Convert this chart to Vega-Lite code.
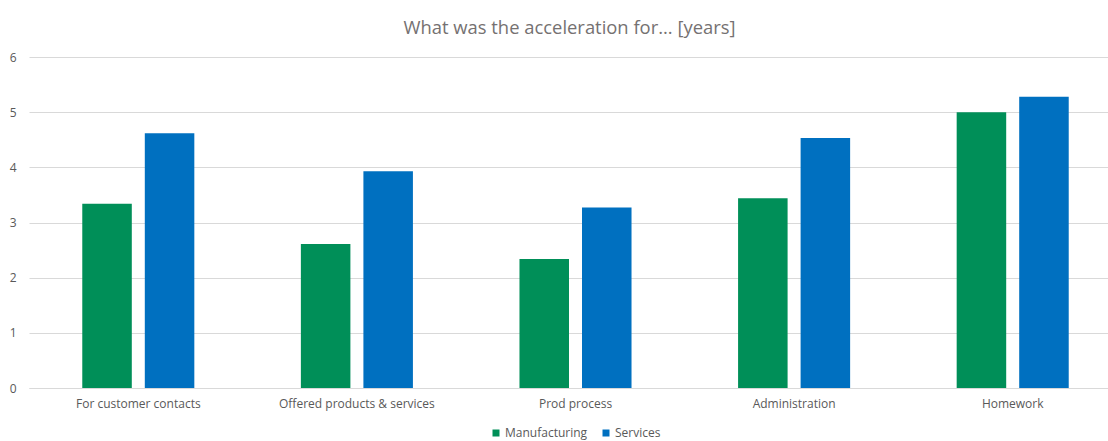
{
  "$schema": "https://vega.github.io/schema/vega-lite/v6.json",
  "width": 1093,
  "height": 331,
  "autosize": {"type": "none"},
  "padding": {"left": 29, "top": 57, "right": 0, "bottom": 53},
  "background": "white",
  "title": {
    "text": "What was the acceleration for... [years]",
    "anchor": "middle",
    "font": "Open Sans",
    "fontSize": 18.4,
    "fontWeight": "normal",
    "color": "#757171",
    "offset": 14,
    "dx": -6
  },
  "data": {
    "values": [
      {"category": "For customer contacts", "sector": "Manufacturing", "years": 3.34},
      {"category": "For customer contacts", "sector": "Services", "years": 4.62},
      {"category": "Offered products & services", "sector": "Manufacturing", "years": 2.61},
      {"category": "Offered products & services", "sector": "Services", "years": 3.93},
      {"category": "Prod process", "sector": "Manufacturing", "years": 2.34},
      {"category": "Prod process", "sector": "Services", "years": 3.27},
      {"category": "Administration", "sector": "Manufacturing", "years": 3.44},
      {"category": "Administration", "sector": "Services", "years": 4.53},
      {"category": "Homework", "sector": "Manufacturing", "years": 5.0},
      {"category": "Homework", "sector": "Services", "years": 5.28}
    ]
  },
  "mark": {"type": "bar"},
  "encoding": {
    "x": {
      "field": "category",
      "type": "nominal",
      "sort": null,
      "scale": {"paddingInner": 0, "paddingOuter": 0},
      "axis": {
        "title": null,
        "labelAngle": 0,
        "labelFont": "Open Sans",
        "labelFontSize": 12,
        "labelColor": "#595959",
        "labelPadding": 10,
        "ticks": false,
        "domainColor": "#d9d9d9",
        "grid": false
      }
    },
    "xOffset": {
      "field": "sector",
      "type": "nominal",
      "scale": {"paddingInner": 0.208, "paddingOuter": 0.852}
    },
    "y": {
      "field": "years",
      "type": "quantitative",
      "scale": {"domain": [0, 6], "nice": false},
      "axis": {
        "title": null,
        "values": [0, 1, 2, 3, 4, 5, 6],
        "labelOverlap": false,
        "labelFont": "Open Sans",
        "labelFontSize": 12,
        "labelColor": "#595959",
        "labelPadding": 13,
        "ticks": false,
        "domain": false,
        "gridColor": "#d9d9d9"
      }
    },
    "color": {
      "field": "sector",
      "type": "nominal",
      "scale": {"domain": ["Manufacturing", "Services"], "range": ["#008F58", "#0070C0"]},
      "legend": {
        "title": null,
        "orient": "bottom",
        "direction": "horizontal",
        "symbolType": "square",
        "symbolSize": 49,
        "symbolStrokeWidth": 0,
        "labelFont": "Open Sans",
        "labelFontSize": 12,
        "labelColor": "#595959",
        "labelOffset": 3,
        "columnPadding": 12,
        "offset": 18
      }
    }
  },
  "config": {
    "view": {"stroke": null},
    "legend": {"layout": {"bottom": {"anchor": "middle"}}}
  }
}
